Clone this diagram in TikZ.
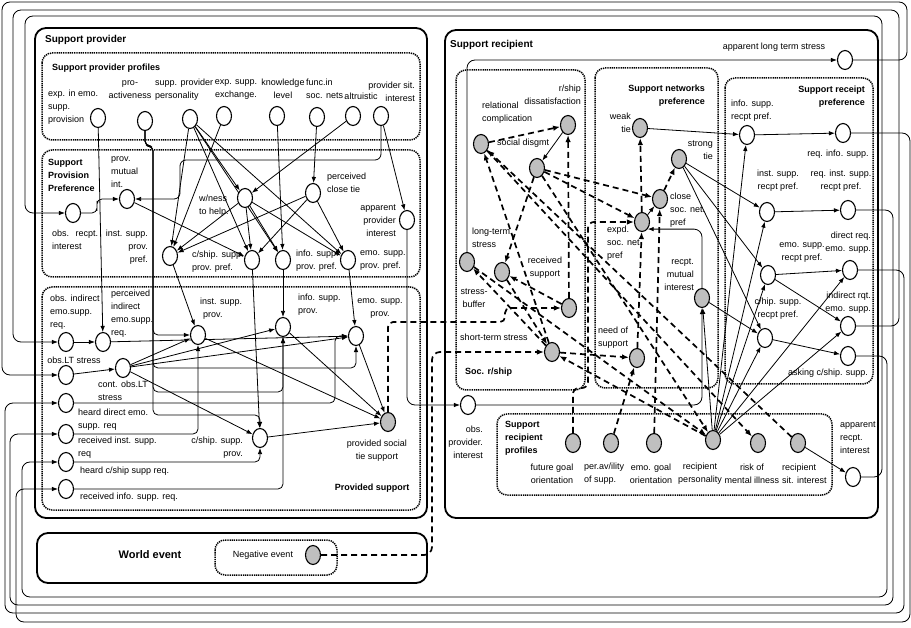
\documentclass[tikz,border=0pt]{standalone}
\usepackage{fontspec}
\setmainfont{Liberation Sans}
\usetikzlibrary{shapes.geometric,arrows.meta}
\pgfdeclarelayer{bg}
\pgfsetlayers{bg,main}
\begin{document}
\begin{tikzpicture}[x=1pt,y=-1pt,
 wn/.style={ellipse,draw,line width=1.1pt,fill=white,minimum width=15pt,minimum height=19pt,inner sep=0pt},
 gn/.style={wn,fill=black!25},
 lb/.style={font=\fontsize{9}{13}\selectfont,inner sep=0pt},
 ttl/.style={font=\fontsize{9}{13}\selectfont\bfseries,inner sep=0pt},
 thickbox/.style={line width=1.8pt,rounded corners=11pt},
 dotbox/.style={line width=1.5pt,dash pattern=on 1.3pt off 0.9pt,rounded corners=10pt},
 ar/.style={line width=0.8pt,-{Latex[length=6pt,width=4.5pt]}},
 dar/.style={line width=1.7pt,dash pattern=on 6pt off 4pt,-{Latex[length=7pt,width=5.5pt]}}]
\useasboundingbox (0,0) rectangle (911,628);
% ---------- nodes: provider
\node[wn] (eemo) at (98,118) {};
\node[wn] (proact) at (145,121) {};
\node[wn] (pers) at (190,119) {};
\node[wn] (exch) at (224,116) {};
\node[wn] (know) at (277,116) {};
\node[wn] (func) at (317,117) {};
\node[wn] (altr) at (353,116) {};
\node[wn] (psit) at (381,116) {};
\node[wn] (pmi) at (127,199) {};
\node[wn] (ori) at (73,213) {};
\node[wn] (wness) at (245,198) {};
\node[wn] (pct) at (313,193) {};
\node[wn] (api) at (407,220) {};
\node[wn] (ipp) at (170,256) {};
\node[wn] (cpp) at (252,260) {};
\node[wn] (fpp) at (283,260) {};
\node[wn] (epp) at (348,260) {};
\node[wn] (oie) at (66,342) {};
\node[wn] (pie) at (103,342) {};
\node[wn] (olt) at (66,375) {};
\node[wn] (colt) at (123,368) {};
\node[wn] (hde) at (66,403) {};
\node[wn] (ris) at (66,434) {};
\node[wn] (hcs) at (66,462) {};
\node[wn] (rif) at (66,489) {};
\node[wn] (isp) at (198,335) {};
\node[wn] (fsp) at (283,327) {};
\node[wn] (esp) at (356,336) {};
\node[wn] (csp) at (260,438) {};
\node[gn] (pst) at (388,422) {};
\node[gn] (neg) at (313,555) {};
% ---------- nodes: recipient
\node[gn] (rc) at (481,144) {};
\node[gn] (rsd) at (568,125) {};
\node[gn] (sdg) at (537,168) {};
\node[gn] (lts) at (467,262) {};
\node[gn] (sb) at (502,272) {};
\node[gn] (rs) at (569,308) {};
\node[gn] (sts) at (552,352) {};
\node[gn] (wt) at (640,128) {};
\node[gn] (st) at (679,159) {};
\node[gn] (csn) at (660,199) {};
\node[gn] (esn) at (642,222) {};
\node[gn] (nos) at (637,358) {};
\node[gn] (rmi) at (702,298) {};
\node[wn] (irp) at (747,135) {};
\node[wn] (rqi) at (843,133) {};
\node[wn] (inrp) at (767,212) {};
\node[wn] (rqn) at (848,210) {};
\node[wn] (erp) at (768,275) {};
\node[wn] (dre) at (850,270) {};
\node[wn] (chrp) at (765,338) {};
\node[wn] (ire) at (848,326) {};
\node[wn] (acs) at (848,356) {};
\node[wn] (alts) at (845,60) {};
\node[wn] (arri) at (853,477) {};
\node[wn] (opi) at (468,405) {};
\node[gn] (fgo) at (573,443) {};
\node[gn] (pav) at (611,443) {};
\node[gn] (ego) at (654,443) {};
\node[gn] (rper) at (713,440) {};
\node[gn] (risk) at (758,443) {};
\node[gn] (rsi) at (798,443) {};
% ---------- labels: provider
\node[ttl,font=\fontsize{10}{12}\selectfont\bfseries,anchor=west] (t1) at (45,40) {Support provider};
\node[ttl,anchor=west] (t2) at (52,68) {Support provider profiles};
\node[lb,anchor=west,align=left] (l1) at (48,107) {exp. in emo.\\supp.\\provision};
\node[lb,align=center] (l2) at (130,90) {pro-\\activeness};
\node[lb,anchor=west,align=left] (l3) at (155,90) {supp. provider\\personality};
\node[lb,align=center] (l4) at (236,90) {exp. supp.\\exchange.};
\node[lb,align=center] (l5) at (283,89) {knowledge\\level};
\node[lb,anchor=west,align=left] (l6) at (306,89) {func.in\\soc. nets};
\node[lb] (l7) at (361,96) {altruistic};
\node[lb,anchor=east,align=right] (l8) at (415,92) {provider sit.\\interest};
\node[ttl,anchor=west,align=left] (t3) at (48,175) {Support\\Provision\\Preference};
\node[lb,anchor=west,align=left] (l9) at (111,172) {prov.\\mutual\\int.};
\node[lb,anchor=west,align=left] (l10) at (52,240) {obs.\hspace{3pt} recpt.\\interest};
\node[lb,anchor=east,align=right] (l11) at (148,247) {inst. supp.\\prov.\\pref.};
\node[lb,anchor=west,align=left] (l12) at (199,206) {w/ness\\to help.};
\node[lb,anchor=west,align=left] (l13) at (327,183) {perceived\\close tie};
\node[lb,anchor=east,align=right] (l14) at (396,221) {apparent\\provider\\interest};
\node[lb,anchor=west,align=left] (l15) at (192,262) {c/ship. supp.\\prov. pref.};
\node[lb,anchor=west,align=left] (l16) at (296,261) {info. supp.\\prov. pref.};
\node[lb,anchor=west,align=left] (l17) at (360,261) {emo. supp.\\prov. pref.};
\node[lb,anchor=west,align=left] (l18) at (50,312) {obs. indirect\\emo.supp.\\req.};
\node[lb,anchor=west,align=left] (l19) at (111,314) {perceived\\indirect\\emo.supp.\\req.};
\node[lb] (l20) at (74,360) {obs.LT stress};
\node[lb,anchor=west,align=left] (l21) at (98,391) {cont. obs.LT\\stress};
\node[lb,anchor=west,align=left] (l22) at (78,420) {heard direct emo.\\supp. req};
\node[lb,anchor=west,align=left] (l23) at (78,448) {received inst. supp.\\req};
\node[lb,anchor=west] (l24) at (80,471) {heard c/ship supp req.};
\node[lb,anchor=west] (l25) at (80,497) {received info. supp. req.};
\node[lb,anchor=west,align=left] (l26) at (200,309) {inst. supp.\\\hspace{3pt}prov.};
\node[lb,anchor=west,align=left] (l27) at (298,305) {info. supp.\\prov.};
\node[lb,align=center] (l28) at (380,309) {emo. supp.\\prov.};
\node[lb,anchor=east,align=right] (l29) at (243,448) {c/ship. supp.\\prov.};
\node[lb,align=center] (l30) at (377,451) {provided social\\tie support};
\node[ttl] (t4) at (372,488) {Provided support};
\node[ttl,font=\fontsize{11}{13}\selectfont\bfseries] (t5) at (150,555) {World event};
\node[lb] (l31) at (263,555) {Negative event};
% ---------- labels: recipient
\node[ttl,font=\fontsize{10}{12}\selectfont\bfseries,anchor=west] (t6) at (450,45) {Support recipient};
\node[lb,anchor=west,align=left] (l32) at (482,113) {relational\\complication};
\node[lb,anchor=east,align=right] (l33) at (581,95) {r/ship\\dissatisfaction};
\node[lb,anchor=west] (l34) at (497,143) {social disgmt};
\node[lb,anchor=west,align=left] (l35) at (472,238) {long-term\\stress};
\node[lb,align=center] (l36) at (474,298) {stress-\\buffer};
\node[lb,align=center] (l37) at (545,268) {received\\support};
\node[lb] (l38) at (494,337) {short-term stress};
\node[ttl,anchor=west] (t7) at (465,372) {Soc. r/ship};
\node[ttl,anchor=east,align=right] (t8) at (705,96) {Support networks\\preference};
\node[lb,anchor=east,align=right] (l39) at (631,123) {weak\\tie};
\node[lb,anchor=east,align=right] (l40) at (713,150) {strong\\tie};
\node[lb,anchor=west,align=left] (l41) at (670,210) {close\\soc. net.\\pref};
\node[lb,anchor=west,align=left] (l42) at (607,243) {expd.\\soc. net\\pref};
\node[lb,anchor=west,align=left] (l43) at (598,338) {need of\\support};
\node[lb,anchor=east,align=right] (l44) at (694,275) {recpt.\\mutual\\interest};
\node[ttl,anchor=east,align=right] (t9) at (865,97) {Support receipt\\preference};
\node[lb,anchor=west,align=left] (l45) at (731,111) {info. supp.\\recpt pref.};
\node[lb] (l46) at (838,154) {req. info. supp.};
\node[lb,align=center] (l47) at (778,181) {inst. supp.\\recpt pref.};
\node[lb,align=center] (l48) at (841,181) {req. inst. supp.\\recpt pref.};
\node[lb,align=center] (l49) at (802,253) {emo. supp.\\recpt pref.};
\node[lb,anchor=east,align=right] (l50) at (871,243) {direct req.\\emo. supp.};
\node[lb,align=center] (l51) at (778,309) {c/hip. supp.\\recpt pref.};
\node[lb,anchor=east,align=right] (l52) at (871,303) {indirect rqt.\\emo. supp.};
\node[lb] (l53) at (828,373) {asking c/ship. supp.};
\node[lb] (l54) at (774,47) {apparent long term stress};
\node[lb,anchor=west,align=left] (l55) at (840,438) {apparent\\recpt.\\interest};
\node[lb,anchor=east,align=right] (l56) at (483,442) {obs.\\provider.\\interest};
\node[ttl,anchor=west,align=left] (t10) at (505,438) {Support\\recipient\\profiles};
\node[lb,align=center] (l57) at (552,474) {future goal\\orientation};
\node[lb,anchor=west,align=left] (l58) at (584,474) {per.av/ility\\of supp.};
\node[lb,align=center] (l59) at (651,474) {emo. goal\\orientation};
\node[lb,align=center] (l60) at (700,474) {recipient\\personality};
\node[lb,align=center] (l61) at (752,474) {risk of\\mental illness};
\node[lb,anchor=west,align=left] (l62) at (782,474) {recipient\\sit. interest};
% ---------- route coordinates
\coordinate (t1a) at (907,2);  \coordinate (t1b) at (2,2);
\coordinate (t2a) at (899,10); \coordinate (t2b) at (13,10);
\coordinate (t3a) at (882,16); \coordinate (t3b) at (25,16);
\coordinate (b1a) at (887,597); \coordinate (b1b) at (22,597);
\coordinate (b2a) at (893,605); \coordinate (b2b) at (10,605);
\coordinate (b3a) at (904,613); \coordinate (b3b) at (5,613);
\coordinate (b4a) at (910,622); \coordinate (b4b) at (16,622);
\coordinate (pa1) at (153,146); \coordinate (pa2) at (153,368);
\coordinate (pa3) at (153,392); \coordinate (pa4) at (153,415);
\coordinate (ps1) at (180,160); \coordinate (or1) at (97,206);
\coordinate (hd1) at (335,403);
\coordinate (fg1) at (588,388); \coordinate (nx) at (432,352);
\coordinate (pj) at (505,322);
\begin{pgfonlayer}{bg}
\fill[white] (0,0) rectangle (911,628);
% boxes
\draw[thickbox] (35,28) rectangle (427,518);
\draw[dotbox] (42,53) rectangle (420,140);
\draw[dotbox] (42,150) rectangle (420,277);
\draw[dotbox] (42,287) rectangle (420,510);
\draw[thickbox] (445,30) rectangle (878,518);
\draw[dotbox] (456,70) rectangle (585,390);
\draw[dotbox] (595,68) rectangle (718,388);
\draw[dotbox] (725,78) rectangle (873,384);
\draw[dotbox] (497,414) rectangle (832,495);
\draw[thickbox] (37,533) rectangle (427,583);
\draw[dotbox] (215,540) rectangle (337,575);
% loops round the picture
\draw[ar,rounded corners=8pt] (alts.east) -| (t1a) -- (t1b) |- (olt.west);
\draw[ar,rounded corners=8pt] (ire.east) -| (t2a) -- (t2b) |- (oie.west);
\draw[ar,rounded corners=8pt] (arri.east) -| (t3a) -- (t3b) |- (ori.west);
\draw[ar,rounded corners=8pt] (acs.east) -| (b1a) -- (b1b) |- (hcs.west);
\draw[ar,rounded corners=8pt] (rqn.east) -| (b2a) -- (b2b) |- (ris.west);
\draw[ar,rounded corners=8pt] (dre.east) -| (b3a) -- (b3b) |- (hde.west);
\draw[ar,rounded corners=8pt] (rqi.east) -| (b4a) -- (b4b) |- (rif.west);
% provider edges
\draw[ar] (eemo) -- (pie);
\draw[ar,rounded corners=5pt] (proact.south) |- (pa1) |- (isp.west);
\draw[ar,rounded corners=5pt] (proact.south) |- (pa1) -- (pa2) -| (esp.south);
\draw[ar,rounded corners=5pt] (proact.south) |- (pa1) -- (pa3) -| (fsp.south);
\draw[ar,rounded corners=5pt] (proact.south) |- (pa1) -- (pa4) -| (csp.north);
\draw[ar] (pers) -- (ipp);
\draw[ar] (pers) -- (wness);
\draw[ar] (pers) -- (cpp);
\draw[ar] (pers) -- (fpp);
\draw[ar] (pers) -- (epp);
\draw[ar] (exch) -- (ipp);
\draw[ar] (altr) -- (wness);
\draw[ar,rounded corners=6pt] (psit.south) |- (ps1) |- (pmi.east);
\draw[ar] (psit) -- (api);
\draw[ar,rounded corners=5pt] (ori.east) -| (or1) |- (pmi.west);
\draw[ar] (pmi) -- (cpp);
\draw[ar] (know) -- (fpp);
\draw[ar] (func) -- (pct);
\draw[ar] (wness) -- (ipp);
\draw[ar] (wness) -- (cpp);
\draw[ar] (wness) -- (fpp);
\draw[ar] (wness) -- (epp);
\draw[ar] (pct) -- (ipp);
\draw[ar] (pct) -- (cpp);
\draw[ar] (pct) -- (epp);
\draw[ar] (ipp) -- (isp);
\draw[ar] (cpp) -- (csp);
\draw[ar] (fpp) -- (fsp);
\draw[ar] (epp) -- (esp);
\draw[ar] (oie) -- (pie);
\draw[ar] (olt) -- (colt);
\draw[ar] (colt) -- (isp);
\draw[ar] (colt) -- (fsp);
\draw[ar] (colt) -- (esp);
\draw[ar] (colt) -- (csp);
\draw[ar] (pie) -- (esp);
\draw[ar,rounded corners=5pt] (hde.east) -- (hd1) |- (esp.west);
\draw[ar,rounded corners=5pt] (ris.east) -| (isp.south);
\draw[ar,rounded corners=5pt] (hcs.east) -| (csp.south);
\draw[ar,rounded corners=5pt] (rif.east) -| (fsp.south);
\draw[ar] (isp) -- (pst);
\draw[ar] (fsp) -- (pst);
\draw[ar] (esp) -- (pst);
\draw[ar] (csp) -- (pst);
\draw[ar,rounded corners=8pt] (api.south) |- (opi.west);
% cross links
\draw[dar,rounded corners=8pt] (neg.east) -| (nx) -- (sts.west);
\draw[dar,rounded corners=5pt] (pst.north) |- (pj) |- (rs.west);
% recipient dashed edges
\draw[dar] (rc) -- (rsd);
\draw[dar] (rs) -- (rsd);
\draw[dar] (sdg) -- (csn);
\draw[dar] (sdg) -- (esn);
\draw[dar] (sdg) -- (sb);
\draw[dar] (rs) -- (sb);
\draw[dar] (sb) -- (sts);
\draw[dar] (sts) -- (lts);
\draw[dar] (sts) -- (rc);
\draw[dar] (sts) -- (nos);
\draw[dar] (rper) -- (sts);
\draw[dar] (lts) -- (rper);
\draw[dar] (sdg) -- (rper);
\draw[dar] (rc) -- (risk);
\draw[dar] (rsi) -- (rc);
\draw[dar] (nos) -- (esn);
\draw[dar] (esn) -- (wt);
\draw[dar] (csn) -- (st);
\draw[dar] (ego) -- (csn);
\draw[dar] (pav) -- (nos);
\draw[dar,rounded corners=6pt] (fgo.north) |- (fg1) |- (esn.west);
% recipient solid edges
\draw[ar] (rsd) -- (sdg);
\draw[ar] (esn) -- (csn);
\draw[ar] (wt) -- (irp);
\draw[ar] (st) -- (inrp);
\draw[ar] (st) -- (erp);
\draw[ar] (st) -- (chrp);
\draw[ar] (rmi) -- (chrp);
\draw[ar] (rper) -- (irp);
\draw[ar] (rper) -- (inrp);
\draw[ar] (rper) -- (erp);
\draw[ar] (rper) -- (chrp);
\draw[ar] (rper) -- (dre);
\draw[ar] (rper) -- (ire);
\draw[ar] (rper) -- (rmi);
\draw[ar] (irp) -- (rqi);
\draw[ar] (inrp) -- (rqn);
\draw[ar] (erp) -- (dre);
\draw[ar] (erp) -- (ire);
\draw[ar] (chrp) -- (acs);
\draw[ar] (rsi) -- (arri);
\draw[ar,rounded corners=8pt] (lts.north) |- (alts.west);
\draw[ar,rounded corners=8pt] (opi.east) -| (rmi.south);
\draw[ar,rounded corners=8pt] (rmi.north) |- (esn.south east);
\end{pgfonlayer}
\end{tikzpicture}
\end{document}
